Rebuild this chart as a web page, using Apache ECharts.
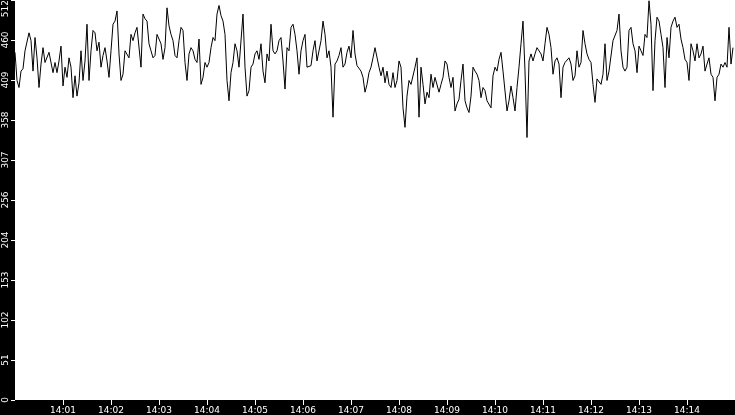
<!DOCTYPE html>
<html lang="en">

<head>
    <meta charset="UTF-8">
    <meta name="viewport" content="width=device-width, initial-scale=1.0">
    <title>Rate</title>
    <script src="https://cdn.jsdelivr.net/npm/echarts@6.0.0/dist/echarts.min.js"></script>
    <style>
        html, body { margin: 0; padding: 0; background: #000; }
    </style>
</head>

<body>
    <div id="main" style="width: 735px;height:415px;"></div>
    <script type="text/javascript">
        // samples every 2.5 s starting at 14:00:00
        const startSec = 0;
        const stepSec = 2.5;
        const values = [
            445, 409, 400, 421, 424, 447, 449, 470, 460, 421, 464, 438, 400, 430, 451, 432, 430, 445, 443, 419,
            432, 419, 434, 453, 402, 426, 413, 438, 426, 387, 415, 389, 406, 447, 409, 434, 481, 409, 447, 473,
            470, 447, 458, 426, 441, 451, 434, 413, 447, 481, 485, 498, 443, 409, 417, 447, 449, 438, 468, 460,
            470, 477, 479, 426, 494, 488, 485, 456, 447, 438, 441, 468, 470, 456, 436, 451, 502, 479, 468, 460,
            441, 438, 460, 477, 473, 432, 409, 443, 451, 447, 436, 432, 462, 404, 413, 432, 426, 432, 451, 464,
            460, 494, 505, 492, 485, 468, 409, 383, 419, 432, 456, 447, 426, 426, 494, 426, 389, 396, 426, 430,
            443, 447, 436, 456, 421, 406, 443, 434, 481, 447, 443, 447, 460, 464, 434, 398, 451, 447, 477, 481,
            468, 447, 417, 447, 460, 468, 426, 426, 428, 447, 460, 434, 434, 460, 485, 468, 438, 447, 426, 362,
            430, 434, 441, 451, 426, 430, 445, 453, 438, 473, 443, 428, 428, 421, 413, 394, 404, 419, 426, 438,
            451, 449, 426, 415, 426, 406, 421, 404, 400, 419, 400, 409, 434, 426, 374, 349, 389, 409, 404, 406,
            426, 438, 362, 426, 404, 379, 394, 387, 417, 400, 413, 413, 394, 404, 413, 434, 430, 413, 400, 413,
            370, 379, 385, 409, 430, 383, 374, 368, 389, 426, 421, 417, 409, 387, 400, 396, 383, 383, 374, 415,
            426, 421, 436, 445, 421, 421, 370, 383, 402, 387, 370, 400, 426, 456, 485, 421, 336, 434, 443, 434,
            443, 451, 451, 443, 434, 456, 477, 468, 451, 417, 434, 438, 430, 387, 426, 432, 430, 438, 430, 409,
            415, 447, 426, 432, 473, 456, 443, 436, 432, 404, 381, 411, 409, 404, 417, 456, 409, 421, 419, 460,
            460, 473, 494, 447, 426, 421, 426, 473, 477, 456, 447, 419, 453, 447, 441, 468, 464, 511, 481, 396,
            460, 490, 485, 468, 451, 400, 464, 438, 477, 485, 490, 477, 481, 462, 451, 436, 432, 409, 456, 447,
            434, 456, 438, 443, 453, 421, 430, 438, 417, 413, 383, 413, 417, 430, 426, 432, 426, 477, 430, 451
        ];

        // y axis: 0..512 in tenths
        const yMax = 512;
        const yStep = 51.2;
        const yTickLabels = ['0', '51', '102', '153', '204', '256', '307', '358', '409', '460', '512'];

        // x axis: seconds after 14:00:00, one tick a minute
        const xMax = 900;
        const xTickSecs = [60, 120, 180, 240, 300, 360, 420, 480, 540, 600, 660, 720, 780, 840];
        const xTickLabels = ['14:01', '14:02', '14:03', '14:04', '14:05', '14:06', '14:07',
            '14:08', '14:09', '14:10', '14:11', '14:12', '14:13', '14:14'];

        const seriesData = values.map((v, i) => [startSec + i * stepSec, v]);

        let myChart = echarts.init(document.getElementById('main'));
        let options = {
            animation: false,
            backgroundColor: '#000',
            grid: {
                left: 15, right: 0, top: 0, bottom: 15,
                outerBoundsMode: 'none',
                containLabel: false,
                show: true, backgroundColor: '#fff', borderWidth: 0
            },
            xAxis: {
                type: 'value',
                min: 0,
                max: xMax,
                interval: 60,
                splitLine: { show: false },
                axisLine: { show: false },
                axisTick: {
                    show: true, length: 5, inside: false,
                    customValues: xTickSecs,
                    lineStyle: { color: '#fff', width: 1 }
                },
                axisLabel: {
                    customValues: xTickSecs,
                    color: '#fff',
                    fontFamily: 'DejaVu Sans',
                    fontSize: 9,
                    margin: 6,
                    formatter: (v) => xTickLabels[xTickSecs.indexOf(Math.round(v))] || ''
                }
            },
            yAxis: {
                type: 'value',
                min: 0,
                max: yMax,
                interval: yStep,
                splitLine: { show: false },
                axisLine: { show: false },
                axisTick: {
                    show: true, length: 4, inside: false,
                    lineStyle: { color: '#fff', width: 1 }
                },
                axisLabel: {
                    color: '#fff',
                    fontFamily: 'DejaVu Sans',
                    fontSize: 9,
                    rotate: 90,
                    margin: 5,
                    alignMaxLabel: 'right',
                    formatter: (v) => yTickLabels[Math.round(v / yStep)]
                }
            },
            series: [{
                type: 'line',
                data: seriesData,
                showSymbol: false,
                symbol: 'none',
                lineStyle: { color: '#000', width: 1 },
                silent: true
            }]
        };
        myChart.setOption(options);
    </script>
</body>

</html>
